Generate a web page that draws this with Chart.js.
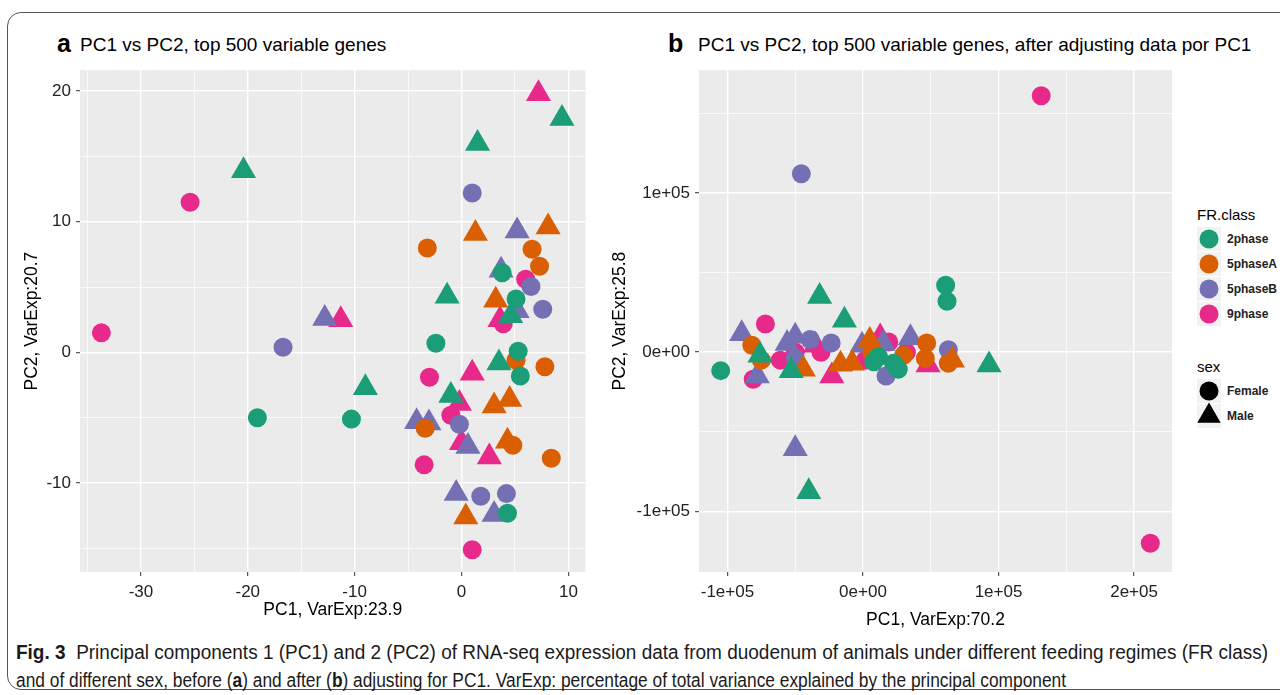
<!DOCTYPE html>
<html>
<head>
<meta charset="utf-8">
<script src="https://cdn.jsdelivr.net/npm/chart.js@4.4.0/dist/chart.umd.min.js"></script>
<style>
  body { margin: 0; width: 1280px; height: 695px; background: #fff; position: relative; overflow: hidden;
         font-family: "Liberation Sans", Arial, sans-serif; color: #000; }
  #frame { position: absolute; left: 7px; top: 12px; width: 1300px; height: 676px;
           border: 1.5px solid #555; border-radius: 14px; }
  .tag { position: absolute; font-weight: bold; font-size: 25px; line-height: 1; }
  .ttl { position: absolute; font-size: 19px; line-height: 1; }
  .wrap { position: absolute; top: 55px; }
  #legend { position: absolute; left: 1197px; top: 206px; font-size: 12px; }
  #legend .head { font-size: 15px; margin-bottom: 3px; }
  #legend .row { height: 25px; display: flex; align-items: center; }
  #legend .key { width: 24px; height: 24px; background: #f2f2f2; margin-right: 6px; }
  #legend .row span { font-weight: bold; color: #222; }
  .cap { position: absolute; left: 16px; white-space: nowrap; font-size: 20px; line-height: 1;
         transform-origin: 0 0; color: #1a1a1a; }
</style>
</head>
<body>
<div id="frame"></div>
<div class="tag" style="left:57px; top:31px;">a</div>
<div class="ttl" style="left:80px; top:35px;">PC1 vs PC2, top 500 variable genes</div>
<div class="tag" style="left:668px; top:31px;">b</div>
<div class="ttl" style="left:698px; top:35px;">PC1 vs PC2, top 500 variable genes, after adjusting data por PC1</div>

<div class="wrap" style="left:0px;"><canvas id="chartA" width="600" height="570"></canvas></div>
<div class="wrap" style="left:600px;"><canvas id="chartB" width="590" height="580"></canvas></div>

<div id="legend"></div>

<div class="cap" id="cap1" style="top:642px;"><b>Fig. 3</b>&nbsp; Principal components 1 (PC1) and 2 (PC2) of RNA-seq expression data from duodenum of animals under different feeding regimes (FR class)</div>
<div class="cap" id="cap2" style="top:670px;">and of different sex, before (<b>a</b>) and after (<b>b</b>) adjusting for PC1. VarExp: percentage of total variance explained by the principal component</div>

<script>
// groups
const classes = ['2phase', '5phaseA', '5phaseB', '9phase'];
const classColors = ['#1b9e77', '#d95f02', '#7570b3', '#e7298a'];
const sexes = ['Female', 'Male'];

// panel a: [PC1, PC2]
const a2phaseF = [[3.8, 6.1], [5.1, 4.1], [-2.4, 0.7], [5.3, 0.1], [5.5, -1.8], [-19.1, -5.0], [-10.3, -5.1], [4.3, -12.3]];
const a2phaseM = [[9.4, 17.9], [1.5, 16.0], [-20.4, 13.9], [-1.35, 4.3], [4.6, 2.8], [3.5, -0.8], [-9.0, -2.7], [-1.0, -3.3]];
const a5phaseAF = [[-3.2, 8.0], [6.6, 7.9], [7.3, 6.6], [5.1, -0.6], [7.8, -1.1], [-3.4, -5.8], [4.8, -7.1], [8.4, -8.1]];
const a5phaseAM = [[1.3, 9.1], [8.1, 9.6], [3.2, 4.0], [3.05, -4.1], [4.5, -3.6], [4.3, -6.8], [0.4, -12.6]];
const a5phaseBF = [[1.0, 12.2], [6.5, 5.05], [7.6, 3.3], [-16.7, 0.4], [-0.2, -5.5], [1.8, -11.0], [4.2, -10.8]];
const a5phaseBM = [[5.2, 9.3], [3.7, 6.3], [5.2, 3.2], [-12.8, 2.6], [-4.2, -5.3], [-3.05, -5.4], [0.6, -7.2], [-0.5, -10.8], [3.05, -12.4]];
const a9phaseF = [[-25.4, 11.5], [6.0, 5.6], [3.9, 2.2], [-33.7, 1.5], [-3.0, -1.9], [-1.0, -4.8], [-3.5, -8.6], [1.0, -15.1]];
const a9phaseM = [[7.2, 19.8], [3.6, 2.5], [-11.3, 2.5], [1.0, -1.6], [-0.2, -3.9], [0.0, -6.9], [2.6, -8.0]];

// panel b
const b2phaseF = [[-105000, -11600], [61000, 42000], [62000, 32000], [11500, -2900], [26000, -10700], [22500, -7000], [8000, -6000]];
const b2phaseM = [[-32000, 35000], [-13700, 20000], [-76000, -1900], [-53000, -11600], [93000, -8000], [-40000, -87600]];
const b5phaseAF = [[-82000, 4300], [-75000, -5000], [47000, 5800], [46000, -3900], [63000, -7000], [6600, 0], [30000, -2000]];
const b5phaseAM = [[5000, 7400], [-44000, -10700], [-16600, -7600], [-8000, -7000], [66000, -5000], [10000, -3000]];
const b5phaseBF = [[-45500, 112000], [-39000, 8000], [-23500, 5800], [63000, 1500], [17000, -15000], [-50000, -4000]];
const b5phaseBM = [[-89500, 11500], [-78000, -15000], [-56000, 5400], [-50000, 10000], [-700, 4300], [15000, 5400], [35000, 9000], [-50000, -60700]];
const b9phaseF = [[131500, 161000], [212000, -120000], [-72000, 17700], [-81000, -17000], [-61000, -5000], [-50000, 0], [-31000, 0], [19000, 6400], [1700, -5000], [32000, 0]];
const b9phaseM = [[-35000, 4300], [-23000, -15000], [12700, 9500], [48000, -8000]];

// axis ticks
const aTicksX = [-30, -20, -10, 0, 10];
const aTickLabelsX = ['-30', '-20', '-10', '0', '10'];
const aTicksY = [-10, 0, 10, 20];
const aTickLabelsY = ['-10', '0', '10', '20'];
const bTicksX = [-100000, 0, 100000, 200000];
const bTickLabelsX = ['-1e+05', '0e+00', '1e+05', '2e+05'];
const bTicksY = [-100000, 0, 100000];
const bTickLabelsY = ['-1e+05', '0e+00', '1e+05'];

const panelA = [[a2phaseF, a2phaseM], [a5phaseAF, a5phaseAM], [a5phaseBF, a5phaseBM], [a9phaseF, a9phaseM]];
const panelB = [[b2phaseF, b2phaseM], [b5phaseAF, b5phaseAM], [b5phaseBF, b5phaseBM], [b9phaseF, b9phaseM]];

const panelBg = {
    id: 'panelBg',
    beforeDraw(chart) {
        const { ctx, chartArea } = chart;
        ctx.save();
        ctx.fillStyle = '#ebebeb';
        ctx.fillRect(chartArea.left, chartArea.top, chartArea.right - chartArea.left, chartArea.bottom - chartArea.top);
        ctx.restore();
    }
};

function makeDatasets(panel) {
    const sets = [];
    panel.forEach((pair, c) => {
        pair.forEach((pts, s) => {
            sets.push({
                label: classes[c] + ' ' + sexes[s],
                data: pts.map(p => ({ x: p[0], y: p[1] })),
                pointStyle: s === 0 ? 'circle' : 'triangle',
                pointRadius: s === 0 ? 9.5 : 14.5,
                pointHoverRadius: s === 0 ? 9.5 : 14.5,
                backgroundColor: classColors[c],
                borderColor: classColors[c],
                borderWidth: 0,
                clip: false
            });
        });
    });
    return sets;
}

// major ticks plus the ggplot style minor lines half way between them
function gridValues(ticks, min, max) {
    const half = (ticks[1] - ticks[0]) / 2;
    const vals = [];
    ticks.forEach(t => { vals.push(t - half, t); });
    vals.push(ticks[ticks.length - 1] + half);
    return vals.filter(v => v >= min && v <= max);
}

function axis(min, max, ticks, labels, title, titlePad, fitSize, horizontal) {
    const tol = Math.abs(ticks[1] - ticks[0]) / 1000;
    const isMajor = v => ticks.some(t => Math.abs(t - v) < tol);
    return {
        type: 'linear',
        min: min,
        max: max,
        border: { display: false },
        afterBuildTicks: s => { s.ticks = gridValues(ticks, min, max).map(v => ({ value: v })); },
        grid: {
            color: '#ffffff',
            lineWidth: c => isMajor(c.tick.value) ? 1.4 : 0.7,
            tickColor: c => isMajor(c.tick.value) ? '#333333' : 'rgba(0,0,0,0)',
            tickLength: 4,
            tickWidth: 1
        },
        ticks: {
            autoSkip: false,
            maxRotation: 0,
            padding: horizontal ? 6 : 5,
            color: '#222222',
            font: { family: 'Liberation Sans', size: 17 },
            callback: v => {
                const i = ticks.findIndex(t => Math.abs(t - v) < tol);
                return i >= 0 ? labels[i] : '';
            }
        },
        title: {
            display: true,
            text: title,
            color: '#000000',
            font: { family: 'Liberation Sans', size: 17.5 },
            padding: titlePad
        },
        afterFit: s => {
            if (horizontal) s.height = fitSize; else s.width = fitSize;
        }
    };
}

function makeChart(id, panel, xs, ys, padRight) {
    new Chart(document.getElementById(id), {
        type: 'scatter',
        data: { datasets: makeDatasets(panel) },
        options: {
            responsive: false,
            animation: false,
            events: [],
            layout: { padding: { top: 8, right: padRight, bottom: 0, left: 0 } },
            plugins: { legend: { display: false }, tooltip: { enabled: false } },
            scales: { x: xs, y: ys }
        },
        plugins: [panelBg]
    });
}

makeChart('chartA', panelA,
    axis(-35.7, 11.6, aTicksX, aTickLabelsX, 'PC1, VarExp:23.9', { top: 0, bottom: 4 }, 53, true),
    axis(-16.8, 21.6, aTicksY, aTickLabelsY, 'PC2, VarExp:20.7', { top: 22, bottom: 0 }, 80, false),
    12);

makeChart('chartB', panelB,
    axis(-121000, 228000, bTicksX, bTickLabelsX, 'PC1, VarExp:70.2', { top: 0, bottom: 4 }, 63, true),
    axis(-138000, 177000, bTicksY, bTickLabelsY, 'PC2, VarExp:25.8', { top: 10, bottom: 0 }, 99, false),
    18);

// legend
const legend = document.getElementById('legend');
function svgKey(shape, color) {
    const inner = shape === 'circle'
        ? `<circle cx="12" cy="12" r="9.5" fill="${color}"/>`
        : `<polygon points="12,-1.5 23.7,18.8 0.3,18.8" fill="${color}"/>`;
    return `<svg class="key" width="24" height="24" viewBox="0 0 24 24" style="overflow:visible">${inner}</svg>`;
}
let html = '<div class="head">FR.class</div>';
classes.forEach((c, i) => { html += `<div class="row">${svgKey('circle', classColors[i])}<span>${c}</span></div>`; });
html += '<div class="head" style="margin-top:32px">sex</div>';
sexes.forEach((s, i) => { html += `<div class="row">${svgKey(i === 0 ? 'circle' : 'triangle', '#000')}<span>${s}</span></div>`; });
legend.innerHTML = html;

// caption lines are set in a condensed face in the paper; squeeze to the same widths
[['cap1', 1252], ['cap2', 1050]].forEach(([id, w]) => {
    const el = document.getElementById(id);
    el.style.transform = `scaleX(${w / el.scrollWidth})`;
});
</script>
</body>
</html>
